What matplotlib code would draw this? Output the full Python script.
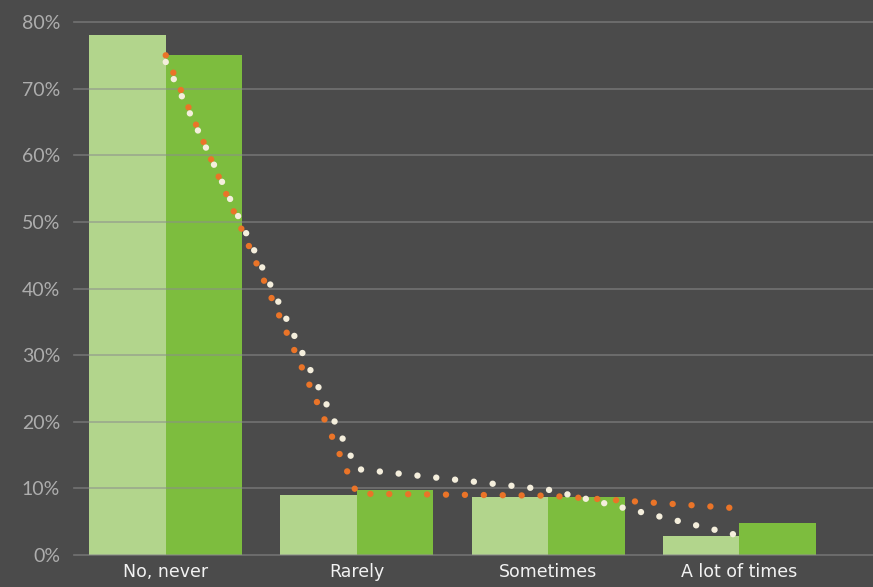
import numpy as np
import matplotlib
matplotlib.use('Agg')
import matplotlib.pyplot as plt

categories = ['No, never', 'Rarely', 'Sometimes', 'A lot of times']
bars_light = [78, 9, 8.7, 2.9]
bars_dark = [75, 9.8, 8.7, 4.8]
line_orange = [75, 9.2, 8.9, 7.0]
line_white = [74, 12.9, 9.8, 2.9]
y_ticks = [0, 10, 20, 30, 40, 50, 60, 70, 80]

bg = '#4b4b4b'
fig = plt.figure(figsize=(8.73, 5.87), dpi=100, facecolor=bg)
ax = fig.add_axes([74 / 873, 1 - 555 / 587, 1 - 74 / 873, (555 - 22) / 587])
ax.set_facecolor(bg)

x = np.arange(len(categories))
w = 0.4
ax.bar(x - w / 2, bars_light, width=w, color='#b2d58c', zorder=2)
ax.bar(x + w / 2, bars_dark, width=w, color='#7dbd3e', zorder=2)

# gridlines sit on top of the bars, half see-through
for t in y_ticks:
    ax.axhline(t, color='#8c8c8c', lw=1.2, alpha=0.6, zorder=3, clip_on=False)

ax.plot(x, line_orange, color='#ea7428', lw=4.6, linestyle=(0, (0.01, 2.95)),
        dash_capstyle='round', zorder=4)
ax.plot(x, line_white, color='#f4eedc', lw=4.6, linestyle=(0, (0.01, 2.95)),
        dash_capstyle='round', zorder=5)

ax.set_xlim(-0.48, 3.70)
ax.set_ylim(0, 80)
ax.set_yticks(y_ticks)
ax.set_yticklabels([f'{t}%' for t in y_ticks], family='Lato', weight='normal',
                   fontsize=14, color='#adadad')
ax.set_xticks(x)
ax.set_xticklabels(categories, family='DejaVu Sans', fontsize=12.5, color='#f2f2f2')
ax.tick_params(length=0, pad=6)
ax.tick_params(axis='y', pad=10)
for s in ax.spines.values():
    s.set_visible(False)

fig.savefig('out.png', dpi=100, facecolor=bg)
